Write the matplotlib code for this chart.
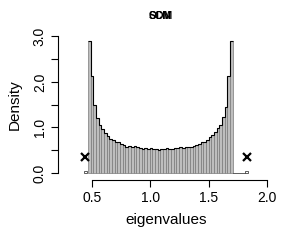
import numpy as np
import matplotlib
matplotlib.use("Agg")
from matplotlib import pyplot as plt

plt.rcParams['font.family'] = ['Liberation Sans', 'DejaVu Sans']

# histogram of eigenvalues (bin width 0.023, starting at 0.465)
bin_start = 0.465
bin_width = 0.023
density = [2.90, 2.14, 1.49, 1.20, 1.05, 0.96, 0.87, 0.81, 0.74, 0.73,
           0.67, 0.67, 0.63, 0.62, 0.58, 0.59, 0.56, 0.59, 0.56, 0.54,
           0.53, 0.54, 0.53, 0.55, 0.52, 0.53, 0.51, 0.53, 0.52, 0.54,
           0.52, 0.53, 0.55, 0.55, 0.56, 0.55, 0.57, 0.58, 0.58, 0.60,
           0.62, 0.63, 0.67, 0.68, 0.72, 0.78, 0.83, 0.90, 0.98, 1.05,
           1.24, 1.46, 2.12, 2.90]
# isolated outlier bins
outlier_left = [0.431]
outlier_right = [1.812]
outlier_height = [0.05]
# cross markers
cross_x = [0.44, 1.825]
cross_y = [0.35, 0.35]

x_ticks = [0.5, 1.0, 1.5, 2.0]
y_ticks = [0.0, 0.5, 1.0, 1.5, 2.0, 2.5, 3.0]
y_labels = ['0.0', '', '1.0', '', '2.0', '', '3.0']

fig = plt.figure(figsize=(3.0, 2.4), dpi=100)
ax = fig.add_axes([0.1933, 0.25, 0.7233, 0.625])

edges = bin_start + bin_width * np.arange(len(density))
ax.bar(edges, density, width=bin_width, align='edge', color='#bebebe',
       edgecolor='#7a7a7a', linewidth=0.5)
ax.stairs(density, np.append(edges, edges[-1] + bin_width), color='black',
          linewidth=0.8, baseline=None)
ax.bar(outlier_left + outlier_right, outlier_height * 2, width=bin_width,
       align='edge', color='white', edgecolor='#444444', linewidth=0.6)
ax.plot([edges[-1] + bin_width, outlier_right[0]], [0, 0], color='#444444', lw=0.6)
ax.plot(cross_x, cross_y, 'x', color='black', markersize=6, markeredgewidth=1.6)

ax.set_xlim(0.209, 2.068)
ax.set_ylim(-0.154, 3.14)
for s in ['top', 'right']:
    ax.spines[s].set_visible(False)
ax.spines['left'].set_bounds(0, 3)
ax.spines['bottom'].set_bounds(0.5, 2.0)
ax.spines['left'].set_linewidth(0.8)
ax.spines['bottom'].set_linewidth(0.8)

ax.set_xticks(x_ticks)
ax.set_xticklabels(['%.1f' % v for v in x_ticks], fontsize=10)
ax.set_yticks(y_ticks)
ax.set_yticklabels(y_labels, fontsize=10, rotation=90, va='center')
ax.tick_params(direction='out', length=5, width=0.8, pad=3)
ax.tick_params(axis='y', pad=3)

ax.set_xlabel('eigenvalues', fontsize=11, labelpad=6)
ax.set_ylabel('Density', fontsize=11, labelpad=8)

fig.text(0.535, 0.935, 'SCM', fontsize=7.5, fontweight='bold', ha='center', va='center')
fig.text(0.535, 0.935, 'ODM', fontsize=7.5, fontweight='bold', ha='center', va='center')

fig.savefig('out.png', dpi=100)
